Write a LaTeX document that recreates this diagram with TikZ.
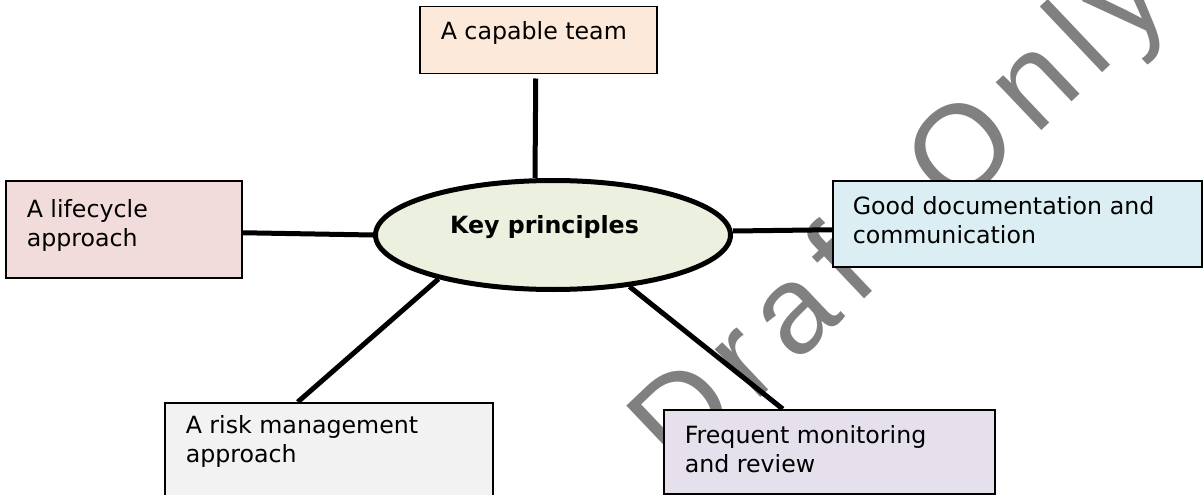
\documentclass[tikz,border=0pt]{standalone}
\usepackage{fontspec}
\setmainfont{DejaVu Sans}
\newfontfamily\wmfont[LetterSpace=12]{Liberation Sans}
\usetikzlibrary{shapes.geometric}
\definecolor{teamfill}{HTML}{FDE9D9}
\definecolor{lifefill}{HTML}{F2DCDB}
\definecolor{docfill}{HTML}{DBEEF3}
\definecolor{riskfill}{HTML}{F2F2F2}
\definecolor{monfill}{HTML}{E5E0EC}
\definecolor{keyfill}{HTML}{EBF1DE}
\definecolor{wmgray}{HTML}{808080}
% #1 width, #2 height, #3 left indent, #4 first baseline from top, #5 text
\newcommand{\boxtxt}[5]{\vbox to #2pt{\hsize=#1pt\parindent=0pt\leftskip=#3pt\rightskip=0pt plus 1fil\noindent\rule{0pt}{#4pt}#5\par\vss}}
\begin{document}
\begin{tikzpicture}[x=1pt,y=-1pt,
  pbox/.style={draw=black, line width=1.5pt, inner sep=0pt, anchor=north west, rectangle,
    font=\fontsize{23.7}{28.5}\selectfont},
  conn/.style={line width=5pt, draw=black}]
\useasboundingbox (0,0) rectangle (1203,495);
\clip (0,0) rectangle (1203,495);
% watermark
\node[anchor=base west, rotate=43.5, text=wmgray, inner sep=0pt,
  font=\wmfont\fontsize{125}{125}\selectfont] (wm) at (678,476) {Draft Only};
% central ellipse
\node[draw=black, line width=5pt, ellipse, fill=keyfill, minimum width=355pt, minimum height=109pt,
  inner sep=0pt, font=\bfseries\fontsize{23.7}{28.5}\selectfont, text height=17pt, text depth=21pt]
  (key) at (553,235) {Key principles\hspace*{17pt}};
% boxes
\node[pbox, fill=teamfill] (team) at (419,6) {\boxtxt{237}{67}{21}{33}{A capable team}};
\node[pbox, fill=lifefill] (life) at (5,180) {\boxtxt{236}{97}{21}{37}{A lifecycle\\approach}};
\node[pbox, fill=docfill] (docs) at (832,180) {\boxtxt{369}{86}{20}{34}{Good documentation and\\communication}};
\node[pbox, fill=riskfill] (risk) at (164,402) {\boxtxt{328}{100}{21}{31}{A risk management\\approach}};
\node[pbox, fill=monfill] (mon) at (663,409) {\boxtxt{331}{84}{21}{34}{Frequent monitoring\\and review}};
% connectors
\draw[conn] ([shift={(-2.5,4)}]team.south) -- ([xshift=-18pt]key.north);
\draw[conn] ([yshift=-3.5pt]life.east) -- (key.west);
\draw[conn] ([yshift=4pt]key.east) -- ([yshift=-6pt]docs.west);
\draw[conn] (key.201) -- ([xshift=-31pt]risk.north);
\draw[conn] (key.326) -- ([xshift=-46.5pt]mon.north);
\end{tikzpicture}
\end{document}
